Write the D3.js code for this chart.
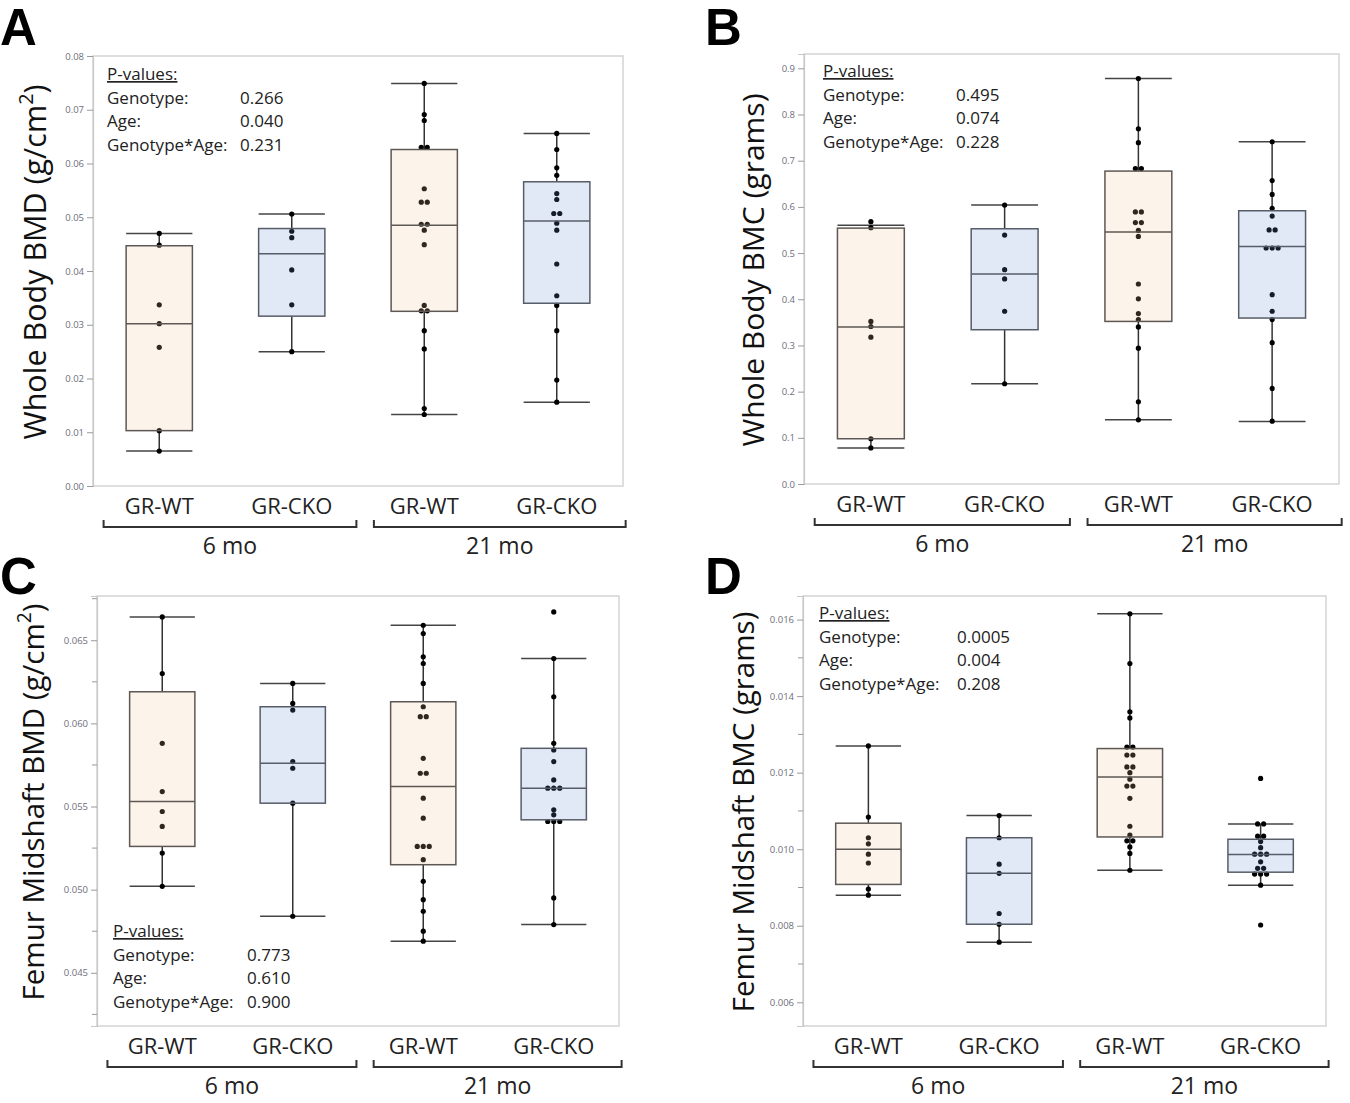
<!DOCTYPE html>
<html><head><meta charset="utf-8">
<script src="https://cdn.jsdelivr.net/npm/d3@7"></script>
<style>body{margin:0;background:#fff;} svg{display:block;}</style>
</head><body>
<svg id="chart" width="1350" height="1103"></svg>
<script>
// ---------- shared labels ----------
const groupLabels = ["GR-WT", "GR-CKO", "GR-WT", "GR-CKO"];
const ageLabels = ["6 mo", "21 mo"];
const pNames = ["Genotype:", "Age:", "Genotype*Age:"];

// ---------- Panel A: Whole Body BMD ----------
const wbBmdPoints = [
  [0.0470, 0.0448, 0.0337, 0.0302, 0.0258, 0.0103, 0.0065],
  [0.0506, 0.0474, 0.0462, 0.0402, 0.0337, 0.0250],
  [0.0749, 0.0691, 0.0680, 0.0630, 0.0630, 0.0553, 0.0528, 0.0528, 0.0487, 0.0487, 0.0476, 0.0449, 0.0336, 0.0326, 0.0326, 0.0289, 0.0255, 0.0144, 0.0133],
  [0.0656, 0.0626, 0.0592, 0.0578, 0.0544, 0.0533, 0.0507, 0.0507, 0.0489, 0.0476, 0.0413, 0.0354, 0.0336, 0.0289, 0.0197, 0.0156]
];
// [whisker low, Q1, median, Q3, whisker high]
const wbBmdBox = [
  [0.0065, 0.0103, 0.0302, 0.0447, 0.0470],
  [0.0250, 0.0316, 0.0432, 0.0479, 0.0506],
  [0.0133, 0.0325, 0.0485, 0.0626, 0.0749],
  [0.0156, 0.0340, 0.0493, 0.0566, 0.0656]
];
const wbBmdP = ["0.266", "0.040", "0.231"];
const wbBmdTicks = [0, 0.01, 0.02, 0.03, 0.04, 0.05, 0.06, 0.07, 0.08];

// ---------- Panel B: Whole Body BMC ----------
const wbBmcPoints = [
  [0.568, 0.555, 0.352, 0.341, 0.318, 0.098, 0.078],
  [0.604, 0.539, 0.464, 0.444, 0.374, 0.217],
  [0.878, 0.769, 0.739, 0.683, 0.683, 0.589, 0.589, 0.566, 0.566, 0.549, 0.536, 0.433, 0.401, 0.369, 0.356, 0.340, 0.294, 0.178, 0.139],
  [0.741, 0.657, 0.627, 0.597, 0.580, 0.550, 0.550, 0.511, 0.511, 0.511, 0.410, 0.374, 0.356, 0.306, 0.207, 0.136]
];
const wbBmcBox = [
  [0.078, 0.098, 0.340, 0.554, 0.560],
  [0.217, 0.334, 0.4545, 0.5526, 0.604],
  [0.139, 0.352, 0.5455, 0.6775, 0.878],
  [0.1355, 0.3593, 0.5143, 0.5916, 0.741]
];
const wbBmcP = ["0.495", "0.074", "0.228"];
const wbBmcTicks = [0, 0.1, 0.2, 0.3, 0.4, 0.5, 0.6, 0.7, 0.8, 0.9];

// ---------- Panel C: Femur Midshaft BMD ----------
const fmBmdPoints = [
  [0.0664, 0.0630, 0.0588, 0.0559, 0.0547, 0.0538, 0.0522, 0.0502],
  [0.0624, 0.0612, 0.0608, 0.0577, 0.0573, 0.0552, 0.0484],
  [0.0659, 0.0654, 0.0640, 0.0636, 0.0624, 0.0610, 0.0604, 0.0604, 0.0579, 0.0570, 0.0570, 0.0555, 0.0543, 0.0526, 0.0526, 0.0526, 0.0518, 0.0505, 0.0494, 0.0487, 0.0475, 0.0469],
  [0.0667, 0.0639, 0.0616, 0.0588, 0.0584, 0.0577, 0.0566, 0.0561, 0.0561, 0.0561, 0.0548, 0.0545, 0.0541, 0.0541, 0.0541, 0.0495, 0.0479]
];
const fmBmdBox = [
  [0.0502, 0.0526, 0.0553, 0.0619, 0.0664],
  [0.0484, 0.0552, 0.0576, 0.0610, 0.0624],
  [0.0469, 0.0515, 0.0562, 0.0613, 0.0659],
  [0.0479, 0.0542, 0.0561, 0.0585, 0.0639]
];
const fmBmdP = ["0.773", "0.610", "0.900"];
const fmBmdTicks = [0.045, 0.050, 0.055, 0.060, 0.065];
const fmBmdMinor = [0.0425, 0.0475, 0.0525, 0.0575, 0.0625, 0.0675];

// ---------- Panel D: Femur Midshaft BMC ----------
const fmBmcPoints = [
  [0.0127, 0.01084, 0.0103, 0.01014, 0.00987, 0.00964, 0.00896, 0.0088],
  [0.01088, 0.0103, 0.00961, 0.00937, 0.00832, 0.00804, 0.00757],
  [0.01615, 0.01485, 0.01359, 0.01343, 0.01267, 0.01267, 0.01246, 0.01246, 0.01215, 0.01215, 0.0120, 0.01183, 0.01165, 0.01165, 0.01133, 0.0106, 0.01037, 0.01022, 0.01022, 0.01006, 0.00989, 0.00945],
  [0.01185, 0.01066, 0.01066, 0.01034, 0.01034, 0.0102, 0.01004, 0.00987, 0.00987, 0.00987, 0.00967, 0.0095, 0.0095, 0.00935, 0.00935, 0.00935, 0.00906, 0.00802]
];
const fmBmcBox = [
  [0.0088, 0.00908, 0.0100, 0.01068, 0.0127],
  [0.00757, 0.00804, 0.00937, 0.0103, 0.01088],
  [0.00945, 0.01032, 0.01189, 0.01263, 0.01615],
  [0.00906, 0.0094, 0.00986, 0.01026, 0.01066]
];
const fmBmcP = ["0.0005", "0.004", "0.208"];
const fmBmcTicks = [0.006, 0.008, 0.010, 0.012, 0.014, 0.016];
const fmBmcMinor = [0.007, 0.009, 0.011, 0.013, 0.015];

// ---------- drawing ----------
const svg = d3.select("#chart");
const FONT = "'Open Sans', 'Noto Sans', sans-serif";
const fills = ["#f2c39a", "#6b91d6", "#f2c39a", "#6b91d6"];
const strokes = ["#5e5854", "#575d68", "#5e5854", "#575d68"];

function panel(cfg) {
  const g = svg.append("g");
  const x = d3.scaleBand().domain(d3.range(4)).range([cfg.x0, cfg.x1]);
  const y = d3.scaleLinear().domain(cfg.domain).range([cfg.y1, cfg.y0]);
  const bw = x.bandwidth();
  const boxW = bw * 0.5;

  // frame
  g.append("rect").attr("x", cfg.x0).attr("y", cfg.y0)
    .attr("width", cfg.x1 - cfg.x0).attr("height", cfg.y1 - cfg.y0)
    .attr("fill", "#fff").attr("stroke", "#d4d4d4").attr("stroke-width", 1.5);

  // axis
  const ax = g.append("g").attr("transform", `translate(${cfg.x0},0)`)
    .call(d3.axisLeft(y).tickValues(cfg.ticks).tickFormat(d3.format(cfg.fmt)).tickSize(6).tickPadding(3));
  ax.select(".domain").attr("stroke", "#c8c8c8").attr("stroke-width", 1.2);
  ax.selectAll(".tick line").attr("stroke", "#9a9a9a");
  ax.selectAll(".tick text").attr("font-family", FONT).attr("font-size", 9.5).attr("fill", "#6e6e7a");
  if (cfg.minor) {
    g.append("g").selectAll("line").data(cfg.minor).join("line")
      .attr("x1", cfg.x0 - 5).attr("x2", cfg.x0)
      .attr("y1", d => y(d)).attr("y2", d => y(d))
      .attr("stroke", "#9a9a9a");
  }

  cfg.box.forEach((b, i) => {
    const cx = x(i) + bw / 2;
    const gg = g.append("g");
    // whiskers
    gg.append("line").attr("x1", cx).attr("x2", cx).attr("y1", y(b[0])).attr("y2", y(b[1]))
      .attr("stroke", "#333").attr("stroke-width", 1.5);
    gg.append("line").attr("x1", cx).attr("x2", cx).attr("y1", y(b[3])).attr("y2", y(b[4]))
      .attr("stroke", "#333").attr("stroke-width", 1.5);
    [b[0], b[4]].forEach(v => {
      gg.append("line").attr("x1", cx - boxW / 2).attr("x2", cx + boxW / 2)
        .attr("y1", y(v)).attr("y2", y(v)).attr("stroke", "#444").attr("stroke-width", 1.5);
    });
    // dots (beeswarm-like horizontal spread for near-equal values)
    const vals = cfg.points[i].slice().sort((a, c) => c - a);
    const clusters = [];
    vals.forEach(v => {
      const last = clusters[clusters.length - 1];
      if (last && Math.abs(y(v) - y(last[0])) < 4) last.push(v);
      else clusters.push([v]);
    });
    const pts = [];
    clusters.forEach(cl => cl.forEach((v, k) => pts.push({ v, dx: (k - (cl.length - 1) / 2) * 6 })));
    gg.selectAll("circle").data(pts).join("circle")
      .attr("cx", d => cx + d.dx).attr("cy", d => y(d.v)).attr("r", 2.6).attr("fill", "#000");
    // box (semi-transparent over dots)
    gg.append("rect").attr("x", cx - boxW / 2).attr("y", y(b[3]))
      .attr("width", boxW).attr("height", y(b[1]) - y(b[3]))
      .attr("fill", fills[i]).attr("fill-opacity", 0.2)
      .attr("stroke", strokes[i]).attr("stroke-width", 1.5);
    gg.append("line").attr("x1", cx - boxW / 2).attr("x2", cx + boxW / 2)
      .attr("y1", y(b[2])).attr("y2", y(b[2])).attr("stroke", strokes[i]).attr("stroke-width", 1.5);
  });

  // group labels
  g.append("g").selectAll("text").data(groupLabels).join("text")
    .attr("x", (d, i) => x(i) + bw / 2).attr("y", cfg.y1 + 28)
    .attr("text-anchor", "middle").attr("font-family", FONT).attr("font-size", 22)
    .attr("fill", "#222").text(d => d);
  // brackets
  const W = cfg.x1 - cfg.x0;
  const br = [[cfg.x0 + 0.02 * W, cfg.x0 + 0.497 * W], [cfg.x0 + 0.53 * W, cfg.x0 + 1.005 * W]];
  br.forEach((r, k) => {
    const yb = cfg.y1 + 41;
    g.append("path")
      .attr("d", `M${r[0]},${yb - 7}V${yb}H${r[1]}V${yb - 7}`)
      .attr("fill", "none").attr("stroke", "#333").attr("stroke-width", 2);
    g.append("text").attr("x", (r[0] + r[1]) / 2).attr("y", cfg.y1 + 68)
      .attr("text-anchor", "middle").attr("font-family", FONT).attr("font-size", 23)
      .attr("fill", "#222").text(ageLabels[k]);
  });

  // y title
  const t = g.append("text")
    .attr("transform", `translate(${cfg.tx},${cfg.ty}) rotate(-90)`)
    .attr("text-anchor", "middle").attr("font-family", FONT).attr("font-size", cfg.tfs).attr("fill", "#111");
  t.append("tspan").text(cfg.title[0]);
  if (cfg.title.length > 1) {
    t.append("tspan").attr("baseline-shift", "super").attr("font-size", cfg.tfs * 0.65).text(cfg.title[1]);
    t.append("tspan").text(cfg.title[2]);
  }

  // p-values
  const pg = g.append("g").attr("font-family", FONT).attr("font-size", 17).attr("fill", "#222");
  pg.append("text").attr("x", cfg.px).attr("y", cfg.py).attr("text-decoration", "underline").text("P-values:");
  pNames.forEach((n, k) => {
    pg.append("text").attr("x", cfg.px).attr("y", cfg.py + 23.5 * (k + 1)).text(n);
    pg.append("text").attr("x", cfg.pvx).attr("y", cfg.py + 23.5 * (k + 1)).text(cfg.p[k]);
  });

  // panel letter
  g.append("text").attr("x", cfg.lx).attr("y", cfg.ly)
    .attr("font-family", "'Liberation Sans', Arial, sans-serif").attr("font-weight", "bold")
    .attr("font-size", 51).attr("fill", "#000").text(cfg.letter);
}

panel({ letter: "A", lx: 0, ly: 45, x0: 93, x1: 623, y0: 56, y1: 486, domain: [0, 0.08],
  ticks: wbBmdTicks, fmt: ".2f", points: wbBmdPoints, box: wbBmdBox, p: wbBmdP,
  px: 107, py: 80, pvx: 240, tx: 46, ty: 262, tfs: 30.5, title: ["Whole Body BMD (g/cm", "2", ")"] });

panel({ letter: "B", lx: 705, ly: 45, x0: 804, x1: 1339, y0: 54, y1: 484, domain: [0, 0.931],
  ticks: wbBmcTicks, fmt: ".1f", points: wbBmcPoints, box: wbBmcBox, p: wbBmcP,
  px: 823, py: 77, pvx: 956, tx: 764, ty: 270, tfs: 30, title: ["Whole Body BMC (grams)"] });

panel({ letter: "C", lx: 0, ly: 594, x0: 97, x1: 619, y0: 596, y1: 1026, domain: [0.0418, 0.06766],
  ticks: fmBmdTicks, minor: fmBmdMinor, fmt: ".3f", points: fmBmdPoints, box: fmBmdBox, p: fmBmdP,
  px: 113, py: 937, pvx: 247, tx: 44, ty: 802, tfs: 29.5, title: ["Femur Midshaft BMD (g/cm", "2", ")"] });

panel({ letter: "D", lx: 705, ly: 594, x0: 803, x1: 1326, y0: 596, y1: 1026, domain: [0.005381, 0.016616],
  ticks: fmBmcTicks, minor: fmBmcMinor, fmt: ".3f", points: fmBmcPoints, box: fmBmcBox, p: fmBmcP,
  px: 819, py: 619, pvx: 957, tx: 754, ty: 812, tfs: 29.5, title: ["Femur Midshaft BMC (grams)"] });
</script>
</body></html>
